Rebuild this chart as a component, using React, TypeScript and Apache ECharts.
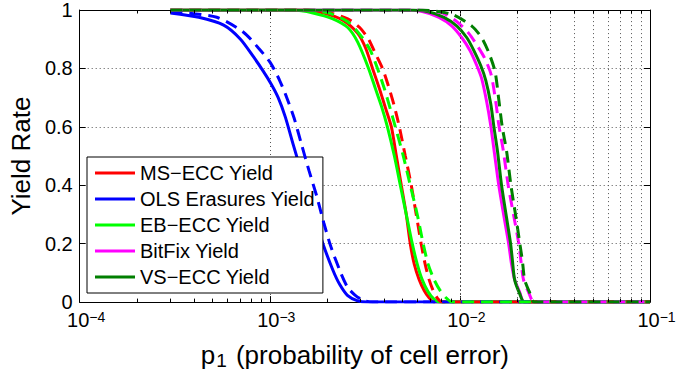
import React, { useEffect, useRef } from "react";
import * as echarts from "echarts";

const FONT = "'Liberation Sans', Arial, Helvetica, sans-serif";

const legendNames = ["MS−ECC Yield", "OLS Erasures Yield", "EB−ECC Yield", "BitFix Yield", "VS−ECC Yield"];
const lineColors = ["#ff0000", "#0000ff", "#00ff00", "#ff00ff", "#007f00"];

const xTickExponents = [-4, -3, -2, -1];
const yTicks = [0, 0.2, 0.4, 0.6, 0.8, 1];
const minorMultipliers = [2, 3, 4, 5, 6, 7, 8, 9];
const minorDecades = [1e-4, 1e-3, 1e-2];

// MS-ECC (red)
const msSolidP = [3e-4, 1.496e-3, 1.903e-3, 2.42e-3, 2.9e-3, 3.191e-3, 3.471e-3, 3.776e-3, 4.058e-3, 4.361e-3, 4.632e-3, 4.918e-3, 5.224e-3, 5.482e-3, 5.753e-3, 6.107e-3, 6.486e-3, 6.887e-3, 7.313e-3, 0.1];
const msSolidY = [1, 1, 0.99, 0.965, 0.92, 0.87, 0.8, 0.73, 0.665, 0.6, 0.5, 0.4, 0.3, 0.2, 0.13, 0.077, 0.04, 0.015, 0, 0];
const msDashP = [3e-4, 1.589e-3, 2.069e-3, 2.57e-3, 2.97e-3, 3.308e-3, 3.598e-3, 3.914e-3, 4.207e-3, 4.522e-3, 4.802e-3, 5.162e-3, 5.548e-3, 5.893e-3, 6.255e-3, 6.565e-3, 6.887e-3, 7.228e-3, 7.585e-3, 8.054e-3, 0.1];
const msDashY = [1, 1, 0.99, 0.97, 0.94, 0.9, 0.85, 0.8, 0.74, 0.67, 0.6, 0.5, 0.4, 0.3, 0.2, 0.13, 0.077, 0.04, 0.015, 0, 0];

// OLS Erasures (blue)
const olsSolidP = [3.0e-4, 4.23e-4, 5.72e-4, 7.01e-4, 8.2e-4, 9.25e-4, 1.018e-3, 1.107e-3, 1.205e-3, 1.327e-3, 1.496e-3, 1.687e-3, 1.903e-3, 2.146e-3, 2.334e-3, 2.57e-3, 2.9e-3, 3.27e-3, 0.1];
const olsSolidY = [0.99, 0.975, 0.948, 0.9, 0.84, 0.79, 0.746, 0.7, 0.635, 0.54, 0.425, 0.31, 0.2, 0.11, 0.06, 0.022, 0.004, 0, 0];
const olsDashP = [3.0e-4, 5.26e-4, 7.27e-4, 8.71e-4, 1.006e-3, 1.121e-3, 1.22e-3, 1.342e-3, 1.461e-3, 1.608e-3, 1.77e-3, 1.926e-3, 2.095e-3, 2.362e-3, 2.57e-3, 2.796e-3, 3.078e-3, 3.471e-3, 0.1];
const olsDashY = [0.995, 0.975, 0.924, 0.87, 0.82, 0.762, 0.705, 0.63, 0.545, 0.45, 0.36, 0.27, 0.19, 0.1, 0.05, 0.025, 0.007, 0, 0];

// EB-ECC (lime)
const ebSolidP = [3e-4, 1.327e-3, 1.687e-3, 2.146e-3, 2.57e-3, 2.9e-3, 3.308e-3, 3.598e-3, 3.869e-3, 4.156e-3, 4.522e-3, 4.86e-3, 5.224e-3, 5.615e-3, 5.965e-3, 6.331e-3, 6.805e-3, 7.313e-3, 7.862e-3, 0.1];
const ebSolidY = [1, 1, 0.99, 0.97, 0.94, 0.89, 0.8, 0.73, 0.67, 0.6, 0.5, 0.4, 0.3, 0.2, 0.13, 0.077, 0.035, 0.01, 0, 0];
const ebDashP = [3e-4, 1.496e-3, 2.021e-3, 2.57e-3, 3.078e-3, 3.388e-3, 3.686e-3, 4.009e-3, 4.309e-3, 4.576e-3, 5.039e-3, 5.482e-3, 5.965e-3, 6.407e-3, 6.805e-3, 7.313e-3, 7.862e-3, 8.452e-3, 9.082e-3, 0.1];
const ebDashY = [1, 1, 0.99, 0.96, 0.904, 0.86, 0.8, 0.73, 0.66, 0.6, 0.5, 0.4, 0.3, 0.2, 0.13, 0.077, 0.04, 0.015, 0, 0];

// BitFix (magenta)
const bfSolidP = [3e-4, 4.978e-3, 6.331e-3, 7.766e-3, 9.082e-3, 1.024e-2, 1.128e-2, 1.227e-2, 1.302e-2, 1.384e-2, 1.452e-2, 1.523e-2, 1.597e-2, 1.698e-2, 1.805e-2, 1.869e-2, 1.94e-2, 2.06e-2, 2.186e-2, 0.1];
const bfSolidY = [1, 1, 0.995, 0.975, 0.945, 0.905, 0.862, 0.81, 0.765, 0.685, 0.605, 0.505, 0.405, 0.3, 0.2, 0.13, 0.077, 0.035, 0, 0];
const bfDashP = [3e-4, 5.965e-3, 8.054e-3, 9.645e-3, 1.114e-2, 1.242e-2, 1.35e-2, 1.458e-2, 1.541e-2, 1.603e-2, 1.69e-2, 1.795e-2, 1.914e-2, 2.04e-2, 2.095e-2, 2.16e-2, 2.293e-2, 2.465e-2, 0.1];
const bfDashY = [1, 1, 0.99, 0.96, 0.92, 0.875, 0.835, 0.78, 0.69, 0.605, 0.52, 0.4, 0.3, 0.2, 0.14, 0.077, 0.035, 0, 0];

// VS-ECC (dark green)
const vsSolidP = [3e-4, 5.287e-3, 6.724e-3, 8.25e-3, 9.645e-3, 1.088e-2, 1.183e-2, 1.287e-2, 1.367e-2, 1.452e-2, 1.51e-2, 1.578e-2, 1.656e-2, 1.749e-2, 1.848e-2, 1.891e-2, 1.94e-2, 2.06e-2, 2.186e-2, 0.1];
const vsSolidY = [1, 1, 0.995, 0.975, 0.945, 0.905, 0.862, 0.81, 0.76, 0.68, 0.6, 0.515, 0.4, 0.3, 0.2, 0.14, 0.077, 0.03, 0, 0];
const vsDashP = [3e-4, 6.331e-3, 9.082e-3, 1.155e-2, 1.302e-2, 1.417e-2, 1.53e-2, 1.597e-2, 1.67e-2, 1.762e-2, 1.855e-2, 1.961e-2, 2.067e-2, 2.133e-2, 2.19e-2, 2.32e-2, 2.465e-2, 0.1];
const vsDashY = [1, 1, 0.985, 0.945, 0.905, 0.855, 0.79, 0.7, 0.6, 0.515, 0.4, 0.3, 0.2, 0.14, 0.077, 0.035, 0, 0];

const solidSets = [
  [msSolidP, msSolidY],
  [olsSolidP, olsSolidY],
  [ebSolidP, ebSolidY],
  [bfSolidP, bfSolidY],
  [vsSolidP, vsSolidY],
];
const dashSets = [
  [msDashP, msDashY],
  [olsDashP, olsDashY],
  [ebDashP, ebDashY],
  [bfDashP, bfDashY],
  [vsDashP, vsDashY],
];

const zip = (p: number[], y: number[]) => p.map((v, i) => [v, y[i]]);

export default function App() {
  const ref = useRef<HTMLDivElement>(null);
  useEffect(() => {
    if (!ref.current) return;
    const chart = echarts.init(ref.current, null, { renderer: "svg" });

    const minorValues: number[] = [];
    minorDecades.forEach((d) => minorMultipliers.forEach((m) => minorValues.push(m * d)));

    const gridLine = { type: [1, 3], color: "#555", width: 1 };

    const series: any[] = [];
    series.push({
      name: "minor",
      type: "line",
      data: [],
      silent: true,
      z: 1,
      markLine: {
        silent: true,
        symbol: ["none", "none"],
        label: { show: false },
        animation: false,
        lineStyle: gridLine,
        data: [
          ...minorValues.map((v) => ({ xAxis: v })),
          ...minorValues.map((v) => [
            { coord: [v, 0], lineStyle: { type: "solid", color: "#000", width: 1 } },
            { coord: [v, 0.012] },
          ]),
          ...minorValues.map((v) => [
            { coord: [v, 1], lineStyle: { type: "solid", color: "#000", width: 1 } },
            { coord: [v, 0.988] },
          ]),
        ],
      },
    });
    solidSets.forEach(([p, y], i) => {
      series.push({
        name: legendNames[i],
        type: "line",
        data: zip(p, y),
        showSymbol: false,
        smooth: 0.25,
        z: 3,
        lineStyle: { color: lineColors[i], width: 3 },
        itemStyle: { color: lineColors[i] },
      });
    });
    dashSets.forEach(([p, y], i) => {
      series.push({
        name: legendNames[i] + " (dashed)",
        type: "line",
        data: zip(p, y),
        showSymbol: false,
        smooth: 0.25,
        z: 4,
        lineStyle: { color: lineColors[i], width: 3, type: [12, 7] },
        itemStyle: { color: lineColors[i] },
      });
    });

    const option: any = {
      animation: false,
      textStyle: { fontFamily: FONT, color: "#000" },
      grid: { left: 75, top: 10, width: 575, height: 296, containLabel: false },
      legend: {
        data: legendNames,
        orient: "vertical",
        left: 87,
        top: 157,
        icon: "rect",
        itemWidth: 40,
        itemHeight: 3,
        itemGap: 6,
        padding: [6, 8, 6, 8],
        borderColor: "#000",
        borderWidth: 1,
        backgroundColor: "#fff",
        textStyle: { fontSize: 20, fontFamily: FONT, color: "#000", lineHeight: 20 },
        selectedMode: false,
      },
      xAxis: [
        {
          type: "log",
          logBase: 10,
          min: 1e-4,
          max: 1e-1,
          position: "bottom",
          axisLine: { show: true, onZero: false, lineStyle: { color: "#000", width: 1 } },
          axisTick: { show: true, inside: true, length: 6, lineStyle: { color: "#000" } },
          splitLine: { show: true, lineStyle: gridLine },
          axisLabel: {
            margin: 8,
            formatter: (v: number) => {
              const e = Math.round(Math.log10(v));
              if (!xTickExponents.includes(e)) return "";
              return "{b|10}{s|" + "−" + Math.abs(e) + "}";
            },
            rich: {
              b: { fontSize: 20, lineHeight: 20, fontFamily: FONT, color: "#000", verticalAlign: "bottom", padding: [8, 0, 0, 13] },
              s: { fontSize: 14, lineHeight: 18, fontFamily: FONT, color: "#000", verticalAlign: "top" },
            },
          },
          name: "{a|p}{sub|1}{c| (probability of cell error)}",
          nameLocation: "middle",
          nameGap: 30,
          nameTextStyle: {
            rich: {
              a: { fontSize: 26, lineHeight: 28, fontFamily: FONT, color: "#000", verticalAlign: "top" },
              c: { fontSize: 26, lineHeight: 28, fontFamily: FONT, color: "#000", verticalAlign: "top", padding: [0, 20, 0, 0] },
              sub: { fontSize: 19, lineHeight: 18, fontFamily: FONT, color: "#000", verticalAlign: "bottom", padding: [16, 2, 0, 1] },
            },
          },
        },
        {
          type: "log",
          logBase: 10,
          min: 1e-4,
          max: 1e-1,
          position: "top",
          axisLine: { show: true, onZero: false, lineStyle: { color: "#000", width: 1 } },
          axisTick: { show: true, inside: true, length: 6, lineStyle: { color: "#000" } },
          axisLabel: { show: false },
          splitLine: { show: false },
        },
      ],
      yAxis: [
        {
          type: "value",
          min: yTicks[0],
          max: yTicks[yTicks.length - 1],
          interval: 0.2,
          axisLine: { show: true, onZero: false, lineStyle: { color: "#000", width: 1 } },
          axisTick: { show: true, inside: true, length: 6, lineStyle: { color: "#000" } },
          splitLine: { show: true, lineStyle: gridLine },
          axisLabel: { fontSize: 20, lineHeight: 14, color: "#000", fontFamily: FONT, margin: 7 },
          name: "Yield Rate",
          nameLocation: "middle",
          nameGap: 45,
          nameTextStyle: { fontSize: 26, fontFamily: FONT, color: "#000" },
        },
        {
          type: "value",
          min: yTicks[0],
          max: yTicks[yTicks.length - 1],
          interval: 0.2,
          position: "right",
          axisLine: { show: true, onZero: false, lineStyle: { color: "#000", width: 1 } },
          axisTick: { show: true, inside: true, length: 6, lineStyle: { color: "#000" } },
          axisLabel: { show: false },
          splitLine: { show: false },
        },
      ],
      series,
    };
    chart.setOption(option);
    return () => chart.dispose();
  }, []);
  return <div ref={ref} style={{ width: 694, height: 375, position: "absolute", left: 0, top: 0, background: "#fff" }} />;
}
